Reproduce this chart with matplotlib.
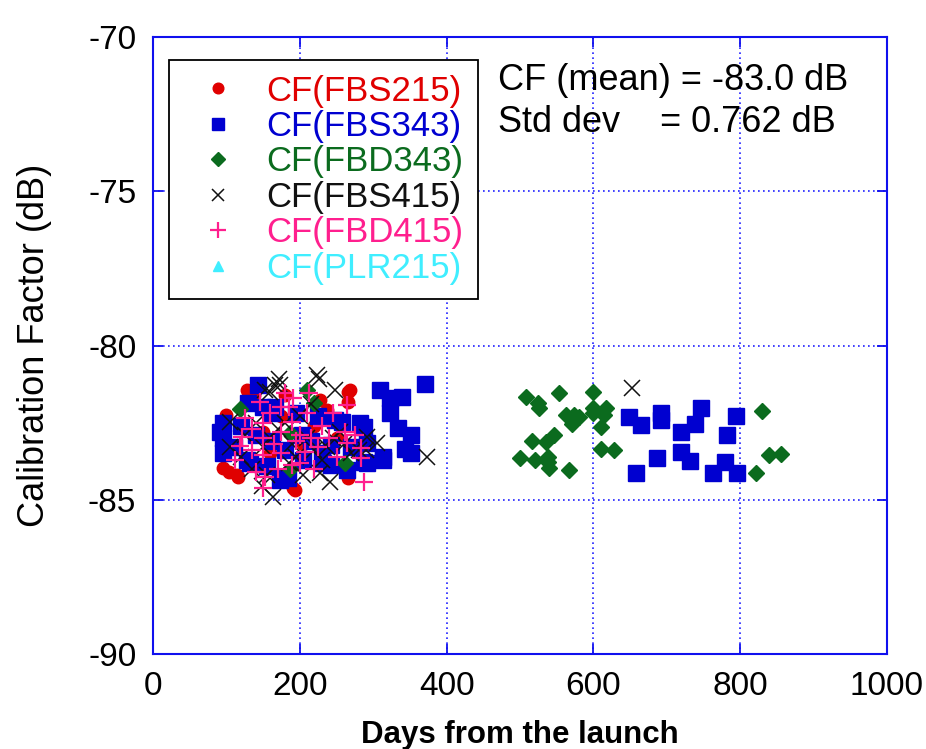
import matplotlib
matplotlib.use("Agg")
import matplotlib.pyplot as plt

plt.rcParams['font.family'] = ['Liberation Sans', 'DejaVu Sans']

# ---------------- data ----------------
fbs215_x = [128, 138, 266, 266, 237, 228, 100, 96, 114, 104, 191, 266, 180, 234, 268,
            193, 116, 150, 205, 160, 250, 220, 140, 175]
fbs215_y = [-81.44, -81.6, -81.5, -81.82, -82.09, -81.77, -82.25, -83.98, -84.2, -84.1,
            -84.63, -84.3, -81.6, -82.2, -81.44, -84.68, -84.25, -82.8, -83.2, -83.5,
            -83.0, -82.6, -83.9, -82.3]

fbs343_x = [95, 95, 95, 91, 166, 282, 291, 291, 314, 257, 175, 132, 205, 232, 264, 248,
            287, 287, 243, 243, 203, 184, 143, 130, 128, 173, 162, 162, 120, 150, 180,
            215, 225, 270, 110, 140, 195, 230, 155,
            309, 323, 339, 323, 334, 352, 344, 352, 314, 371,
            648, 665, 692, 692, 719, 738, 747, 794, 782, 686, 719, 731, 658, 763, 779, 796]
fbs343_y = [-82.5, -83.0, -83.5, -82.8, -81.98, -82.52, -83.17, -83.82, -83.6, -82.47,
            -84.3, -83.82, -83.7, -83.82, -84.04, -82.41, -82.63, -83.77, -83.87, -83.22,
            -82.9, -84.3, -81.28, -81.87, -83.71, -84.36, -82.2, -83.1, -82.6, -82.0,
            -83.4, -83.1, -82.3, -83.3, -83.3, -82.9, -82.2, -83.5, -83.9,
            -81.44, -81.71, -81.66, -82.2, -82.69, -82.91, -83.35, -83.5, -83.72, -81.25,
            -82.31, -82.58, -82.2, -82.4, -82.8, -82.53, -82.04, -82.29, -82.91, -83.65,
            -83.45, -83.76, -84.14, -84.14, -83.78, -84.14]

fbd343_x = [508, 524, 526, 553, 600, 563, 574, 571, 581, 600, 600, 617, 615, 611, 547,
            535, 517, 611, 628, 500, 520, 538, 538, 539, 567, 830, 839, 855, 822,
            210, 220, 119, 187, 261, 186]
fbd343_y = [-81.66, -81.88, -82.04, -81.55, -81.5, -82.26, -82.26, -82.53, -82.31, -82.04,
            -82.2, -82.04, -82.26, -82.64, -82.91, -83.13, -83.1, -83.35, -83.4, -83.65,
            -83.72, -83.62, -83.77, -83.97, -84.02, -82.12, -83.56, -83.53, -84.14,
            -81.44, -81.85, -82.06, -82.83, -83.8, -84.0]

fbs415_x = [223, 226, 173, 166, 172, 159, 153, 248, 105, 164, 148, 228, 241, 305, 291,
            105, 237, 373, 652, 160, 150, 170, 190, 210, 220, 230, 200, 215, 140, 120,
            255, 270, 185, 135, 180, 195, 245, 260, 280, 125, 155, 205, 290]
fbs415_y = [-80.96, -81.1, -81.28, -81.28, -81.1, -81.5, -81.44, -81.44, -82.47, -84.9,
            -84.57, -84.14, -84.42, -83.15, -82.96, -83.3, -83.3, -83.62, -81.39, -83.0,
            -83.3, -82.7, -83.2, -83.0, -83.4, -83.7, -82.3, -81.9, -82.5, -83.6,
            -82.8, -83.5, -83.8, -84.0, -82.5, -83.6, -83.0, -83.2, -83.4, -82.9,
            -84.2, -84.2, -83.4]

fbd415_x = [146, 125, 150, 175, 180, 121, 150, 118, 150, 112, 175, 175, 153, 150, 191,
            212, 264, 189, 195, 207, 262, 264, 284, 284, 287, 189, 200, 215, 210, 230,
            200, 220, 165, 135, 135, 160, 185, 240, 245, 225, 170, 140, 250, 275]
fbd415_y = [-81.82, -82.36, -82.52, -81.98, -81.55, -82.96, -83.0, -83.25, -83.55, -83.71,
            -83.5, -82.8, -84.25, -84.63, -81.71, -81.55, -81.93, -82.47, -83.1, -83.44,
            -82.79, -83.15, -83.33, -83.65, -84.42, -83.87, -82.9, -83.0, -82.2, -82.6,
            -83.8, -84.0, -83.2, -82.7, -83.4, -82.2, -82.0, -83.0, -82.2, -83.3,
            -84.0, -84.1, -83.6, -82.9]

plr215_x = []
plr215_y = []

labels = ["CF(FBS215)", "CF(FBS343)", "CF(FBD343)", "CF(FBS415)", "CF(FBD415)", "CF(PLR215)"]
colors = ["#e00000", "#0000d0", "#0b6b1e", "#111111", "#ff1f8e", "#40eeff"]

x_ticks = [0, 200, 400, 600, 800, 1000]
y_ticks = [-90, -85, -80, -75, -70]

mean_text = "CF (mean) = -83.0 dB"
std_text = "Std dev    = 0.762 dB"

# ---------------- figure ----------------
W, H = 926, 749
fig = plt.figure(figsize=(W / 100, H / 100), dpi=100)
ax = fig.add_axes([153 / W, 1 - 654 / H, (887 - 153) / W, (654 - 37) / H])

ax.plot(fbs215_x, fbs215_y, 'o', ms=9, color=colors[0], mec=colors[0], label=labels[0], zorder=3)
ax.plot(fbs343_x, fbs343_y, 's', ms=11, color=colors[1], mec=colors[1], label=labels[1], zorder=4)
ax.plot(fbd343_x, fbd343_y, 'D', ms=8, color=colors[2], mec=colors[2], label=labels[2], zorder=5)
ax.plot(fbs415_x, fbs415_y, 'x', ms=11, mew=1.1, color=colors[3], label=labels[3], zorder=6)
ax.plot(fbd415_x, fbd415_y, '+', ms=13, mew=1.6, color=colors[4], label=labels[4], zorder=7)
ax.plot(plr215_x, plr215_y, '^', ms=9, color=colors[5], mec=colors[5], label=labels[5], zorder=8)

ax.set_xlim(0, 1000)
ax.set_ylim(-90, -70)
ax.set_xticks(x_ticks)
ax.set_yticks(y_ticks)
ax.set_xticklabels([str(t) for t in x_ticks])
ax.set_yticklabels([str(t) for t in y_ticks])

spine_blue = "#1010ee"
for s in ax.spines.values():
    s.set_color(spine_blue)
    s.set_linewidth(1.5)
ax.tick_params(axis='both', which='major', direction='in', length=7, width=1.3,
               color=spine_blue, top=True, right=True, labelsize=24, pad=12)
ax.grid(True, color="#2020ff", linestyle=(0, (1, 2)), linewidth=1.2)
ax.set_axisbelow(True)

ax.set_xlabel("Days from the launch", fontsize=22.5, fontweight='bold', labelpad=13)
ax.set_ylabel("Calibration Factor (dB)", fontsize=26, labelpad=26)

leg = ax.legend(loc='upper left', bbox_to_anchor=(169 / W, 1 - 60 / H),
                bbox_transform=fig.transFigure, borderaxespad=0, fontsize=25,
                fancybox=False, framealpha=1, edgecolor='black', handlelength=2.0,
                handletextpad=0.38, labelspacing=0.07, borderpad=0.42, markerscale=0.85)
leg.get_frame().set_linewidth(1.3)
for t, c in zip(leg.get_texts(), colors):
    t.set_color(c)

fig.text(498 / W, 1 - 81 / H, mean_text, fontsize=26, ha='left', va='center')
fig.text(498 / W, 1 - 123 / H, std_text, fontsize=26, ha='left', va='center')

fig.savefig("out.png", dpi=100)
